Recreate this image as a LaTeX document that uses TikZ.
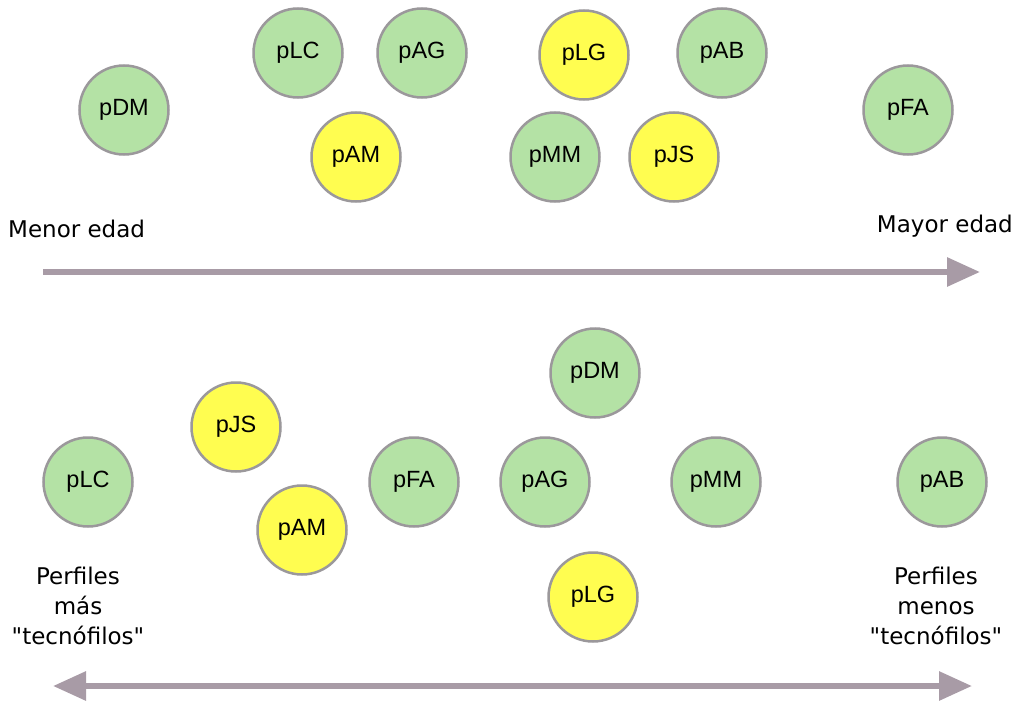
\documentclass[tikz,border=0pt]{standalone}
\usepackage{fontspec}
\newfontfamily\lblfont{DejaVu Sans}
\newfontfamily\circfont{Liberation Sans}
\usetikzlibrary{arrows.meta}
\definecolor{pgreen}{RGB}{180,226,165}
\definecolor{pyellow}{RGB}{255,253,80}
\definecolor{pborder}{RGB}{155,152,155}
\definecolor{parrow}{RGB}{168,155,166}
\tikzset{
  person/.style={circle, draw=pborder, line width=2.5pt, minimum size=89pt, inner sep=0pt, font=\circfont\fontsize{23.5}{26}\selectfont},
  green/.style={person, fill=pgreen},
  yellow/.style={person, fill=pyellow},
  lbl/.style={font=\lblfont\fontsize{23}{30}\selectfont, inner sep=0pt, align=center},
  axis/.style={draw=parrow, line width=6pt}
}
\begin{document}
\begin{tikzpicture}[x=1pt,y=-1pt]
\useasboundingbox[fill=white] (0,0) rectangle (1015,706);
% top
\node[green]  (tDM) at (124,110) {pDM};
\node[green]  (tLC) at (298,53)  {pLC};
\node[green]  (tAG) at (422,53)  {pAG};
\node[yellow] (tLG) at (584,55)  {pLG};
\node[green]  (tAB) at (722,53)  {pAB};
\node[green]  (tFA) at (908,110) {pFA};
\node[yellow] (tAM) at (356,157) {pAM};
\node[green]  (tMM) at (555,157) {pMM};
\node[yellow] (tJS) at (674,157) {pJS};
\node[lbl, anchor=west] (menor) at (8,229) {Menor edad};
\node[lbl, anchor=east] (mayor) at (1013,226) {Mayor edad};
\coordinate (a1s) at (43,272);
\coordinate (a1e) at (980,272);
\draw[axis, -{Triangle[length=33pt,width=28pt]}] (a1s) -- (a1e);
% bottom
\node[green]  (bDM) at (595,373) {pDM};
\node[yellow] (bJS) at (236,427) {pJS};
\node[green]  (bLC) at (88,482)  {pLC};
\node[green]  (bFA) at (414,482) {pFA};
\node[green]  (bAG) at (545,482) {pAG};
\node[green]  (bMM) at (716,482) {pMM};
\node[green]  (bAB) at (942,482) {pAB};
\node[yellow] (bAM) at (302,530) {pAM};
\node[yellow] (bLG) at (593,597) {pLG};
\node[lbl] (mas) at (78,606) {Perfiles\\más\\"tecnófilos"};
\node[lbl] (menos) at (936,606) {Perfiles\\menos\\"tecnófilos"};
\coordinate (a2s) at (53,686);
\coordinate (a2e) at (972,686);
\draw[axis, {Triangle[length=33pt,width=28pt]}-{Triangle[length=33pt,width=28pt]}] (a2s) -- (a2e);
\end{tikzpicture}
\end{document}
